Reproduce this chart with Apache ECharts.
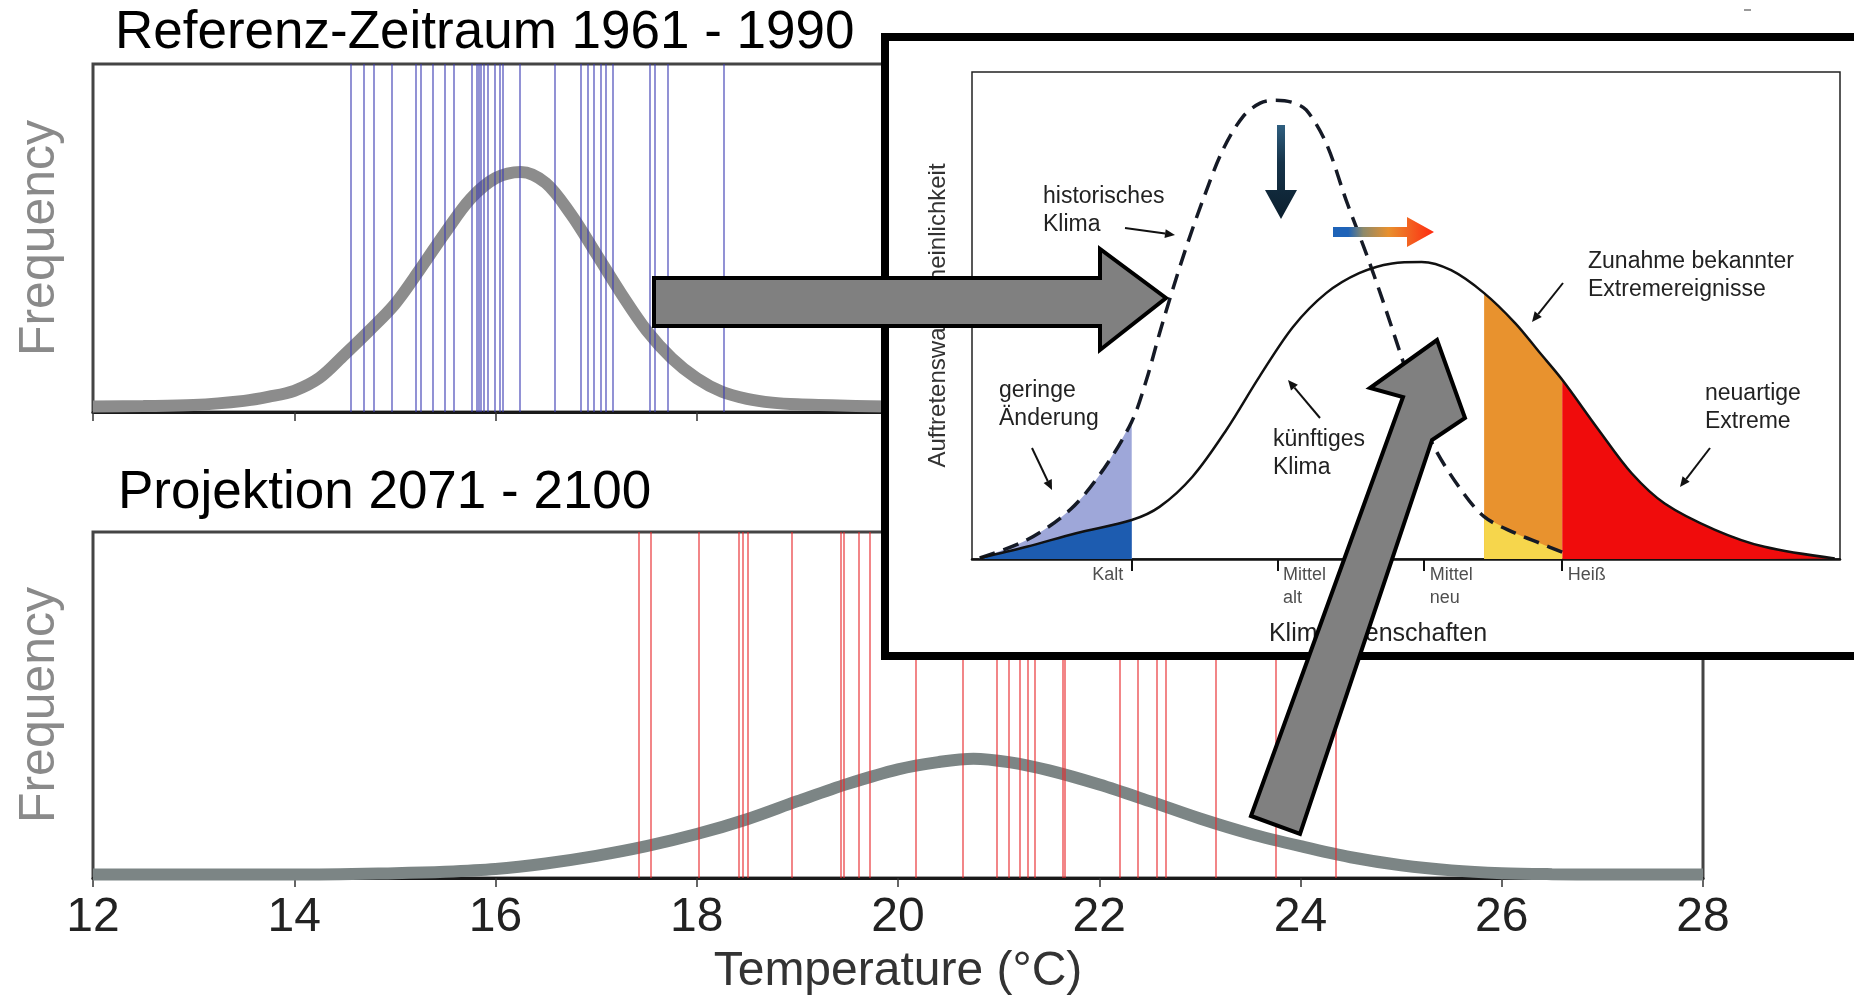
<!DOCTYPE html>
<html>
<head>
<meta charset="utf-8">
<script src="https://cdn.jsdelivr.net/npm/echarts@6/dist/echarts.min.js"></script>
<style>
html,body{margin:0;padding:0;background:#fff}
#main{width:1854px;height:998px}
</style>
</head>
<body>
<div id="main"></div>
<script>
// years 1961-1990: one line per year (deg C)
var refYears = [14.56, 14.69, 14.79, 14.97, 15.21, 15.26, 15.38, 15.5, 15.59, 15.76,
  15.81, 15.83, 15.85, 15.88, 15.92, 15.99, 16.04, 16.07, 16.24, 16.59,
  16.85, 16.92, 16.98, 17.05, 17.1, 17.17, 17.53, 17.58, 17.71, 18.27];
// years 2071-2100
var projYears = [17.42, 17.54, 18.02, 18.42, 18.46, 18.51, 18.94, 19.43, 19.46, 19.61,
  19.72, 20.18, 20.64, 20.98, 21.1, 21.21, 21.29, 21.36, 21.64, 21.66,
  22.2, 22.38, 22.57, 22.66, 23.16, 23.75, 24.35];

// fitted density curves
var refTemp = [12, 12.5, 13, 13.5, 13.75, 14, 14.25, 14.5, 14.75, 15, 15.25, 15.5, 15.75, 16, 16.25, 16.5, 16.75, 17, 17.25, 17.5, 17.75, 18, 18.25, 18.5, 18.75, 19, 19.5, 20, 21, 22, 23, 24, 25, 26, 27, 28];
var refFreq = [0.016, 0.017, 0.02, 0.032, 0.044, 0.061, 0.098, 0.165, 0.235, 0.31, 0.41, 0.515, 0.612, 0.672, 0.69, 0.658, 0.568, 0.455, 0.34, 0.235, 0.155, 0.097, 0.058, 0.038, 0.027, 0.022, 0.018, 0.016, 0.016, 0.016, 0.016, 0.016, 0.016, 0.016, 0.016, 0.016];
var projTemp = [12, 13, 14, 15, 15.5, 16, 16.5, 17, 17.5, 18, 18.5, 19, 19.5, 20, 20.4, 20.75, 21.1, 21.5, 22, 22.5, 23, 23.5, 24, 24.5, 25, 25.5, 26, 26.5, 27, 28];
var projFreq = [0.01, 0.01, 0.01, 0.014, 0.018, 0.026, 0.042, 0.064, 0.092, 0.127, 0.17, 0.222, 0.272, 0.314, 0.335, 0.345, 0.335, 0.311, 0.27, 0.222, 0.172, 0.128, 0.092, 0.06, 0.037, 0.022, 0.014, 0.011, 0.01, 0.01];

// inset: schematic distributions (x and y in 0..100)
var histX = [0.9, 6.3, 11.3, 15.1, 18.4, 20.1, 21.6, 23.1, 24.7, 26.6, 28.9, 31.2, 33.2, 35.0, 36.8, 38.5, 40.8, 43.1, 45.4, 47.3, 49.6, 51.5, 53.0, 56.1, 59.0, 62.6, 65.5, 68.0];
var histY = [0.2, 3.9, 10.1, 18.3, 28.2, 36.8, 46.3, 55.2, 64.1, 73.7, 84.0, 90.8, 93.6, 94.2, 93.8, 92.2, 85.4, 73.7, 62.8, 53.2, 40.9, 31.0, 23.8, 14.8, 8.7, 5.3, 3.2, 1.4];
var futX = [0.9, 6.3, 12.0, 18.4, 21.6, 25.4, 29.3, 33.1, 37.0, 40.8, 44.6, 48.4, 51.8, 55.2, 59.0, 62.6, 65.3, 68.0, 72.2, 76.0, 79.8, 85.6, 91.3, 99.4];
var futY = [0.2, 2.5, 5.3, 8.0, 10.7, 16.9, 26.5, 37.4, 47.7, 54.6, 58.7, 60.7, 61.0, 59.3, 54.6, 48.4, 42.6, 36.8, 26.5, 17.6, 11.4, 6.0, 2.5, 0.1];
var klimaTicks = [18.4, 35.2, 52.1, 68.0];
var klimaLabels = ['Kalt', 'Mittel\nalt', 'Mittel\nneu', 'Heiß'];
var kalt = 18.4, bekannt = 59.0, heiss = 68.0;

function zip(xs, ys) {
  return xs.map(function (x, i) { return [x, ys[i]]; });
}
function pick(xs, ys, lo, hi) {
  var out = [];
  for (var i = 0; i < xs.length; i++) {
    if (xs[i] >= lo && xs[i] <= hi) out.push([xs[i], ys[i]]);
  }
  return out;
}
var SMOOTH = 0.33;
function fill(data, color, z) {
  return {
    type: 'line', xAxisIndex: 2, yAxisIndex: 2, data: data, smooth: SMOOTH,
    symbol: 'none', silent: true, z: z, lineStyle: { width: 0 }, areaStyle: { color: color, opacity: 1 }
  };
}
function yearLines(idx, years, color) {
  return {
    type: 'line', xAxisIndex: idx, yAxisIndex: idx, data: [[12, 0]], symbol: 'none', z: 4,
    lineStyle: { width: 0 },
    markLine: {
      silent: true, symbol: ['none', 'none'], label: { show: false },
      lineStyle: { color: color, width: 1.6, type: 'solid', opacity: 0.7 },
      data: years.map(function (v) { return { xAxis: v }; })
    }
  };
}
function pointer(x1, y1, x2, y2) {
  var dx = x2 - x1, dy = y2 - y1, L = Math.sqrt(dx * dx + dy * dy);
  var ux = dx / L, uy = dy / L, hl = 10, hw = 4.5;
  var bx = x2 - ux * hl, by = y2 - uy * hl;
  return [
    { type: 'line', z: 30, shape: { x1: x1, y1: y1, x2: bx, y2: by }, style: { stroke: '#111', lineWidth: 2 } },
    { type: 'polygon', z: 30, shape: { points: [[x2, y2], [bx - uy * hw, by + ux * hw], [bx + uy * hw, by - ux * hw]] }, style: { fill: '#111' } }
  ];
}
function note(text, x, y) {
  return { type: 'text', z: 30, x: x, y: y,
    style: { text: text, font: '23px "Liberation Sans", Arial, sans-serif', fill: '#222', lineHeight: 28, textVerticalAlign: 'middle' } };
}

var chart = echarts.init(document.getElementById('main'));

var freqAxis = function (idx) {
  return {
    gridIndex: idx, type: 'value', min: 0, max: 1,
    axisLine: { show: false }, axisTick: { show: false }, axisLabel: { show: false }, splitLine: { show: false },
    name: 'Frequency', nameLocation: 'middle', nameRotate: 90, nameGap: 28,
    nameTextStyle: { fontSize: 50, color: '#8a8a8a' }
  };
};
var tempAxis = function (idx, labels) {
  var a = {
    gridIndex: idx, type: 'value', min: 12, max: 28, interval: 2,
    axisLine: { lineStyle: { color: '#1a1a1a', width: 3 } },
    axisTick: { show: true, length: 9, lineStyle: { color: '#333', width: 1.5 } },
    axisLabel: { show: labels, fontSize: 48, color: '#222', margin: 16 },
    splitLine: { show: false }
  };
  if (labels) {
    a.name = 'Temperature (°C)';
    a.nameLocation = 'middle';
    a.nameGap = 70;
    a.nameTextStyle = { fontSize: 48, color: '#333' };
  }
  return a;
};

var graphics = [
  { type: 'rect', z: 10, shape: { x: 885, y: 37, width: 1000, height: 619 }, style: { fill: '#fff', stroke: '#000', lineWidth: 8 } },
  { type: 'rect', z: 10, shape: { x: 1744, y: 9, width: 7, height: 2 }, style: { fill: '#999' } },
  { type: 'text', z: 5, x: 115, y: 33, style: { text: 'Referenz-Zeitraum 1961 - 1990', font: '53px "Liberation Sans", Arial, sans-serif', fill: '#000', textVerticalAlign: 'middle' } },
  { type: 'text', z: 5, x: 118, y: 493, style: { text: 'Projektion 2071 - 2100', font: '53px "Liberation Sans", Arial, sans-serif', fill: '#000', textVerticalAlign: 'middle' } },
  note('historisches\nKlima', 1043, 211),
  note('geringe\nÄnderung', 999, 405),
  note('künftiges\nKlima', 1273, 454),
  note('Zunahme bekannter\nExtremereignisse', 1588, 276),
  note('neuartige\nExtreme', 1705, 408),
  // shift arrows in the inset
  { type: 'polygon', z: 30, shape: { points: [[1277, 125], [1285, 125], [1285, 190], [1297, 190], [1281, 219], [1265, 190], [1277, 190]] },
    style: { fill: { type: 'linear', x: 0, y: 0, x2: 0, y2: 1, colorStops: [{ offset: 0, color: '#2f5f80' }, { offset: 0.4, color: '#163349' }, { offset: 1, color: '#0b1f2e' }] } } },
  { type: 'polygon', z: 30, shape: { points: [[1333, 227], [1407, 227], [1407, 217], [1434, 232], [1407, 247], [1407, 237], [1333, 237]] },
    style: { fill: { type: 'linear', x: 0, y: 0, x2: 1, y2: 0, colorStops: [{ offset: 0, color: '#1e63b8' }, { offset: 0.15, color: '#1e63b8' }, { offset: 0.3, color: '#8d8a6a' }, { offset: 0.55, color: '#e8902e' }, { offset: 1, color: '#ff2a10' }] } } },
  // big grey arrows
  { type: 'polygon', z: 100, shape: { points: [[654, 278], [1100, 278], [1100, 249], [1166, 298], [1100, 350], [1100, 326], [654, 326]] },
    style: { fill: '#808080', stroke: '#000', lineWidth: 4, lineJoin: 'miter' } },
  { type: 'polygon', z: 100, shape: { points: [[1251, 816], [1403, 397], [1370, 388], [1437, 340], [1465, 418], [1432, 440], [1300, 834]] },
    style: { fill: '#808080', stroke: '#000', lineWidth: 4, lineJoin: 'miter' } }
];
[[1125, 228, 1175, 235], [1032, 448, 1052, 490], [1320, 418, 1288, 380], [1563, 283, 1532, 322], [1710, 448, 1680, 487]]
  .forEach(function (p) { graphics = graphics.concat(pointer(p[0], p[1], p[2], p[3])); });

var option = {
  animation: false,
  textStyle: { fontFamily: '"Liberation Sans", Arial, sans-serif' },
  grid: [
    { left: 93, top: 64, width: 1610, height: 348, show: true, borderColor: '#444', borderWidth: 3, backgroundColor: 'transparent' },
    { left: 93, top: 532, width: 1610, height: 346, show: true, borderColor: '#444', borderWidth: 3, backgroundColor: 'transparent' },
    { left: 972, top: 72, width: 868, height: 487, show: true, borderColor: '#222', borderWidth: 1.5, backgroundColor: '#fff', z: 15 }
  ],
  xAxis: [
    tempAxis(0, false),
    tempAxis(1, true),
    {
      gridIndex: 2, type: 'value', min: 0, max: 100, z: 15,
      axisLine: { lineStyle: { color: '#111', width: 2.5 } },
      axisTick: { show: true, customValues: klimaTicks, length: 12, lineStyle: { color: '#111', width: 2 } },
      axisLabel: { show: false }, splitLine: { show: false },
      name: 'Klimaeigenschaften', nameLocation: 'middle', nameGap: 63,
      nameTextStyle: { fontSize: 25, color: '#222', padding: [0, 56, 0, 0] }
    }
  ],
  yAxis: [
    freqAxis(0),
    freqAxis(1),
    {
      gridIndex: 2, type: 'value', min: 0, max: 100, z: 15,
      axisLine: { show: false }, axisTick: { show: false }, axisLabel: { show: false }, splitLine: { show: false },
      name: 'Auftretenswahrscheinlichkeit', nameLocation: 'middle', nameRotate: 90, nameGap: 22,
      nameTextStyle: { fontSize: 24, color: '#333' }
    }
  ],
  series: [
    { type: 'line', xAxisIndex: 0, yAxisIndex: 0, data: zip(refTemp, refFreq), smooth: SMOOTH,
      symbol: 'none', silent: true, z: 3, lineStyle: { color: '#8c8c8c', width: 12 } },
    yearLines(0, refYears, '#3c3cb4'),
    { type: 'line', xAxisIndex: 1, yAxisIndex: 1, data: zip(projTemp, projFreq), smooth: SMOOTH,
      symbol: 'none', silent: true, z: 3, lineStyle: { color: '#7c8585', width: 12 } },
    yearLines(1, projYears, '#e8262a'),

    fill(pick(histX, histY, 0, kalt), '#9ea7d9', 20),
    fill(pick(futX, futY, 0, kalt), '#1d5cb0', 21),
    fill(pick(futX, futY, bekannt, heiss), '#e8922e', 20),
    fill(pick(histX, histY, bekannt, heiss), '#f6d64c', 21),
    fill(pick(futX, futY, heiss, 100), '#f00c0c', 20),
    { type: 'line', xAxisIndex: 2, yAxisIndex: 2, data: zip(histX, histY), smooth: SMOOTH,
      symbol: 'none', silent: true, z: 23, lineStyle: { color: '#151a26', width: 3.5, type: [16, 9] } },
    { type: 'line', xAxisIndex: 2, yAxisIndex: 2, data: zip(futX, futY), smooth: SMOOTH,
      symbol: 'none', silent: true, z: 23, lineStyle: { color: '#111', width: 2.5 },
      markLine: {
        silent: true, symbol: ['none', 'none'], label: { show: false },
        lineStyle: { color: '#111', width: 2, type: 'solid' },
        data: [
          [{ coord: [kalt, 0] }, { coord: [kalt, 28.2] }],
          [{ coord: [bekannt, 0] }, { coord: [bekannt, 54.6] }],
          [{ coord: [heiss, 0] }, { coord: [heiss, 36.8] }]
        ]
      } },
    { type: 'scatter', xAxisIndex: 2, yAxisIndex: 2, z: 23, silent: true, symbolSize: 1,
      itemStyle: { color: 'transparent' },
      label: { show: true, fontSize: 18, color: '#222', lineHeight: 23, verticalAlign: 'top' },
      data: klimaTicks.map(function (t, i) {
        var left = i === 0;
        return { value: [t, 0], label: { formatter: klimaLabels[i], align: left ? 'right' : 'left', position: left ? [-8, 5] : [6, 5] } };
      }) }
  ],
  graphic: graphics
};
chart.setOption(option);
</script>
</body>
</html>
